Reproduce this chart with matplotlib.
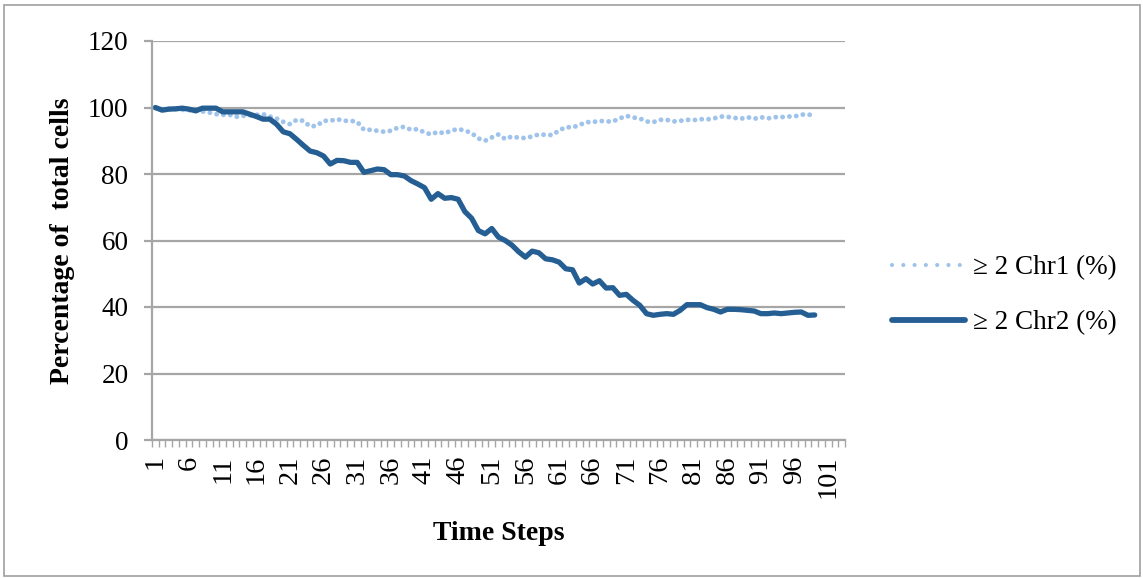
import matplotlib.pyplot as plt
from matplotlib.lines import Line2D
from matplotlib.patches import Rectangle
from matplotlib.ticker import FixedLocator, NullFormatter

# percentage of cells carrying at least two copies, per time step
chr1 = [99.8, 99.5, 99.6, 99.5, 99.3, 99.2, 99.0, 98.8, 98.5, 98.0,
        97.8, 97.8, 97.2, 97.5, 97.6, 97.8, 98.0, 97.3, 96.7, 95.7,
        95.0, 96.3, 96.0, 94.3, 94.5, 96.0, 96.0, 96.5, 96.0, 96.0,
        95.7, 93.3, 93.3, 93.0, 92.7, 93.0, 93.9, 94.2, 93.3, 93.5,
        92.5, 91.9, 92.7, 92.2, 93.1, 93.5, 93.1, 92.3, 90.7, 90.0,
        91.0, 91.9, 90.5, 91.3, 90.9, 90.8, 91.3, 91.9, 91.8, 91.7,
        93.1, 94.1, 94.0, 94.7, 95.6, 95.6, 96.0, 95.8, 95.8, 96.7,
        97.5, 97.0, 96.7, 95.8, 95.6, 96.3, 96.3, 95.8, 96.0, 96.3,
        96.2, 96.5, 96.4, 96.7, 97.3, 97.2, 96.9, 96.6, 97.1, 96.6,
        97.1, 96.7, 97.1, 97.1, 97.3, 97.3, 97.9, 97.8, 97.9]
chr2 = [100.0, 99.2, 99.5, 99.6, 99.8, 99.5, 99.0, 99.8, 99.8, 99.8,
        98.7, 98.7, 98.7, 98.7, 98.0, 97.3, 96.5, 96.5, 95.0, 92.7,
        92.1, 90.4, 88.6, 86.9, 86.4, 85.4, 83.0, 84.1, 84.0, 83.5,
        83.5, 80.5, 81.0, 81.5, 81.3, 79.8, 79.8, 79.4, 78.0, 77.0,
        75.9, 72.4, 74.1, 72.7, 72.9, 72.4, 68.7, 66.7, 63.0, 62.0,
        63.6, 61.0, 60.0, 58.6, 56.6, 55.0, 56.8, 56.3, 54.5, 54.2,
        53.5, 51.5, 51.2, 47.2, 48.5, 46.9, 47.9, 45.7, 45.8, 43.5,
        43.8, 42.0, 40.5, 38.0, 37.5, 37.8, 38.0, 37.8, 39.0, 40.7,
        40.7, 40.7, 39.8, 39.3, 38.5, 39.3, 39.3, 39.2, 39.0, 38.8,
        38.0, 38.0, 38.2, 38.0, 38.2, 38.4, 38.5, 37.5, 37.6]

n_categories = 103
steps = list(range(1, len(chr2) + 1))
step_labels = list(range(1, 102, 5))
y_ticks = [0, 20, 40, 60, 80, 100, 120]
names = ["≥ 2 Chr1 (%)", "≥ 2 Chr2 (%)"]

light = "#9fc3ea"
dark = "#255e93"
grid = "#a6a6a6"
fs = 19.5

plt.rcParams["font.family"] = ["Liberation Serif", "DejaVu Serif"]

fig = plt.figure(figsize=(11.43, 5.78), dpi=100)
ax = fig.add_axes([152 / 1143, 1 - 440 / 578, 693 / 1143, 399 / 578])

ax.plot(steps, chr1, color=light, lw=3.5, linestyle=(0, (0.01, 1.4)),
        dash_capstyle="round")
ax.plot(steps, chr2, color=dark, lw=3.8, solid_capstyle="round",
        solid_joinstyle="round")

ax.set_xlim(0.5, n_categories + 0.5)
ax.set_ylim(0, 120)
ax.set_yticks(y_ticks)
ax.grid(axis="y", color=grid, lw=1.6)
ax.set_axisbelow(True)

# tick marks sit between categories, labels at every fifth step
ax.xaxis.set_major_locator(FixedLocator(step_labels))
ax.set_xticklabels([str(s) for s in step_labels], rotation=90)
ax.xaxis.set_minor_locator(FixedLocator([i + 0.5 for i in range(n_categories + 1)]))
ax.xaxis.set_minor_formatter(NullFormatter())
ax.tick_params(axis="x", which="major", length=0, labelsize=20.5, pad=11)
ax.tick_params(axis="x", which="minor", length=5, color=grid, width=1)
ax.tick_params(axis="y", length=6, color=grid, width=1.6, labelsize=fs, pad=11)

for side in ["top", "right"]:
    ax.spines[side].set_visible(False)
for side in ["left", "bottom"]:
    ax.spines[side].set_color(grid)
    ax.spines[side].set_linewidth(1.6)

ax.set_ylabel("Percentage of  total cells", fontsize=20, fontweight="bold", labelpad=9)
ax.set_xlabel("Time Steps", fontsize=20, fontweight="bold", labelpad=17)

# legend swatches use a wider dot spacing than the plotted series
handles = [
    Line2D([], [], color=light, lw=3.0, linestyle=(0, (0.01, 2.7)), dash_capstyle="round"),
    Line2D([], [], color=dark, lw=4.2, solid_capstyle="round"),
]
ax.legend(handles, names, loc="center left", bbox_to_anchor=(1.052, 0.363),
          borderaxespad=0, frameon=False, fontsize=fs, handlelength=2.7,
          handletextpad=0.3, labelspacing=1.1)

fig.patches.append(Rectangle((4 / 1143, 2 / 578), 1136 / 1143, 571 / 578,
                             transform=fig.transFigure, fill=False,
                             edgecolor="#a0a0a0", lw=1.2))

fig.savefig("out.png", dpi=100)
